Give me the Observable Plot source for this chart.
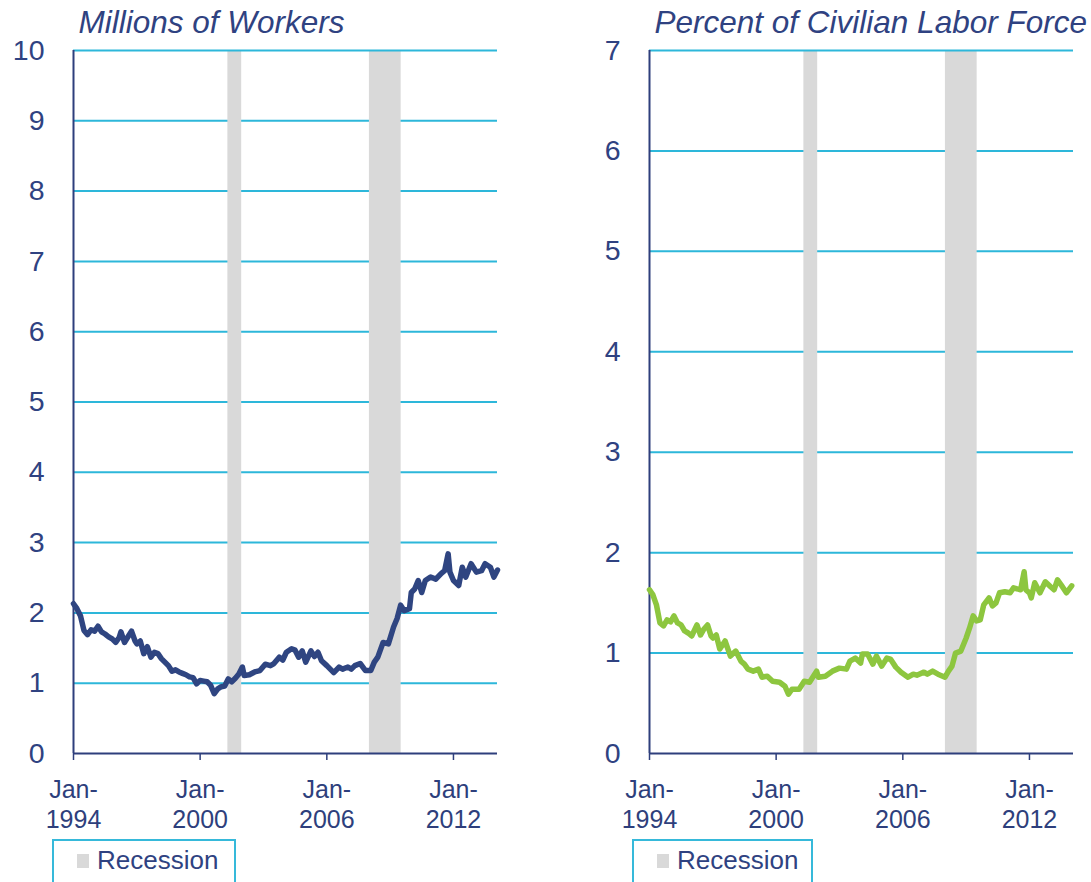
<!DOCTYPE html>
<html><head><meta charset="utf-8">
<script src="https://cdn.jsdelivr.net/npm/d3@7"></script>
<script src="https://cdn.jsdelivr.net/npm/@observablehq/plot@0.6"></script>
<style>
body{margin:0;background:#fff;width:1091px;height:882px;overflow:hidden;font-family:"Liberation Sans",Arial,sans-serif;}
#wrap{position:relative;width:1091px;height:882px;overflow:hidden;}
.panel{position:absolute;top:0;}
.legend{position:absolute;top:839px;height:60px;border:2px solid #36B9DA;box-sizing:border-box;color:#2F4281;font-size:26px;line-height:26px;}
.legend .sw{position:absolute;left:23px;top:13px;width:12px;height:14px;background:#D9D9D9;}
.legend .lb{position:absolute;left:43px;top:6px;white-space:nowrap;}
</style></head>
<body><div id="wrap"></div>
<script>
// ---- data ----
const leftTitle = "Millions of Workers";
const rightTitle = "Percent of Civilian Labor Force";
const legendLabel = "Recession";

const leftDates = ["1994-01","1994-03","1994-05","1994-07","1994-09","1994-11","1995-01","1995-03","1995-05","1995-07","1995-09","1995-11",
"1996-01","1996-03","1996-04","1996-06","1996-08","1996-10","1996-12","1997-01","1997-03","1997-05","1997-07","1997-09","1997-11",
"1998-01","1998-03","1998-05","1998-07","1998-09","1998-11","1999-01","1999-03","1999-05","1999-07","1999-09","1999-11",
"2000-01","2000-03","2000-05","2000-07","2000-09","2000-11","2001-01","2001-03","2001-05","2001-07","2001-09","2001-11",
"2002-01","2002-02","2002-05","2002-08","2002-11","2003-02","2003-05","2003-07","2003-10","2003-12",
"2004-02","2004-05","2004-07","2004-09","2004-11","2005-01","2005-04","2005-06","2005-08","2005-10",
"2006-01","2006-05","2006-08","2006-10","2007-01","2007-03","2007-05","2007-08","2007-11",
"2008-02","2008-04","2008-06","2008-09","2008-12","2009-03","2009-05","2009-07","2009-09","2009-12",
"2010-01","2010-03","2010-05","2010-07","2010-09","2010-12","2011-03","2011-06","2011-08","2011-10","2011-11",
"2012-01","2012-04","2012-06","2012-08","2012-11","2013-02","2013-05","2013-07","2013-10","2013-12","2014-02"];
const leftValues = [2.13,2.06,1.96,1.75,1.69,1.76,1.74,1.81,1.73,1.70,1.66,1.63,
1.58,1.65,1.73,1.58,1.66,1.74,1.60,1.56,1.60,1.42,1.52,1.37,1.44,
1.42,1.35,1.30,1.25,1.17,1.19,1.16,1.14,1.12,1.09,1.08,0.99,
1.04,1.03,1.02,0.97,0.85,0.92,0.95,0.96,1.06,1.02,1.07,1.13,
1.23,1.11,1.12,1.16,1.18,1.27,1.25,1.28,1.37,1.33,
1.44,1.49,1.47,1.37,1.46,1.30,1.46,1.38,1.44,1.32,
1.25,1.15,1.23,1.20,1.23,1.20,1.25,1.28,1.18,
1.18,1.30,1.37,1.58,1.56,1.80,1.92,2.11,2.03,2.06,
2.29,2.34,2.46,2.29,2.46,2.51,2.48,2.56,2.60,2.84,2.58,
2.46,2.39,2.65,2.51,2.70,2.58,2.60,2.70,2.65,2.51,2.61];

const rightDates = ["1994-01","1994-03","1994-05","1994-07","1994-09","1994-11","1995-01","1995-03","1995-05","1995-07","1995-09","1995-11",
"1996-01","1996-04","1996-06","1996-08","1996-10","1996-12","1997-01","1997-03","1997-05","1997-08","1997-11",
"1998-02","1998-05","1998-07","1998-09","1998-12","1999-03","1999-05","1999-08","1999-11",
"2000-03","2000-06","2000-08","2000-10","2001-02","2001-05","2001-08","2001-12",
"2002-01","2002-05","2002-09","2003-01","2003-05","2003-07","2003-10","2004-01","2004-02","2004-05","2004-08","2004-10",
"2005-01","2005-04","2005-06","2005-09","2005-12","2006-04","2006-07","2006-09","2007-01","2007-03","2007-06","2007-09",
"2008-01","2008-03","2008-05","2008-07","2008-10","2009-01","2009-03","2009-05","2009-07","2009-09","2009-11",
"2010-02","2010-04","2010-06","2010-08","2010-11","2011-02","2011-04","2011-08","2011-10","2011-11",
"2012-01","2012-02","2012-04","2012-07","2012-10","2013-01","2013-03","2013-05","2013-07","2013-10","2014-01"];
const rightValues = [1.63,1.58,1.48,1.30,1.27,1.33,1.31,1.37,1.30,1.28,1.22,1.20,
1.17,1.28,1.18,1.24,1.28,1.17,1.15,1.18,1.04,1.12,0.97,
1.02,0.92,0.89,0.84,0.82,0.84,0.76,0.77,0.72,
0.71,0.67,0.59,0.64,0.64,0.72,0.71,0.82,
0.76,0.77,0.82,0.85,0.84,0.92,0.95,0.90,0.99,0.99,0.89,0.97,
0.87,0.95,0.94,0.86,0.81,0.76,0.79,0.78,0.81,0.79,0.82,0.79,
0.76,0.82,0.87,1.00,1.02,1.15,1.25,1.37,1.32,1.33,1.48,
1.55,1.47,1.50,1.60,1.61,1.60,1.65,1.63,1.81,1.63,
1.60,1.55,1.70,1.60,1.71,1.66,1.63,1.73,1.68,1.60,1.67];

const recessionStarts = ["2001-04-25","2008-01-08"];
const recessionEnds = ["2001-12-20","2009-07-10"];
const leftYTicks = [0,1,2,3,4,5,6,7,8,9,10];
const rightYTicks = [0,1,2,3,4,5,6,7];
const xTickDates = ["1994-01","2000-01","2006-01","2012-01"];
const domainStart = "1994-01";
const domainEnd = "2014-02";

// ---- styles ----
const navyText = "#2F4281";
const axisNavy = "#2E3F7C";
const gridColor = "#2DB7DA";
const recColor = "#D9D9D9";
const font = "'Liberation Sans', Arial, sans-serif";

const P = d3.isoParse;
const recessions = recessionStarts.map((s, i) => ({x1: P(s), x2: P(recessionEnds[i])}));

function panel({left, width, mL, mR, dates, values, color, yMax, yTicks, title}) {
  const data = dates.map((d, i) => ({date: P(d), value: values[i]}));
  const plot = Plot.plot({
    width, height: 840,
    marginLeft: mL, marginRight: mR, marginTop: 50, marginBottom: 87,
    style: {fontFamily: font, background: "transparent", overflow: "visible", maxWidth: "none"},
    x: {type: "utc", domain: [P(domainStart), P(domainEnd)]},
    y: {domain: [0, yMax]},
    marks: [
      Plot.ruleY(yTicks.filter(t => t > 0 && t < yMax), {stroke: gridColor, strokeWidth: 2}),
      Plot.rect(recessions, {x1: "x1", x2: "x2", y1: 0, y2: yMax, fill: recColor}),
      Plot.ruleY([yMax], {stroke: gridColor, strokeWidth: 2}),
      Plot.ruleY([0], {stroke: axisNavy, strokeWidth: 2}),
      Plot.ruleX([P(domainStart)], {stroke: axisNavy, strokeWidth: 2}),
      Plot.line(data, {x: "date", y: "value", stroke: color, strokeWidth: 5.5, strokeLinejoin: "round", strokeLinecap: "round"}),
      Plot.axisY(yTicks, {tickSize: 0, tickPadding: 29, fontSize: 28.5, color: navyText, label: null, tickFormat: d => String(d)}),
      Plot.axisX(xTickDates.map(P), {tickSize: 7, tickPadding: 16, fontSize: 25, lineHeight: 1.2, color: axisNavy, strokeWidth: 1.5,
        tickFormat: d => "Jan-\n" + d.getUTCFullYear(), label: null}),
      Plot.text([title], {frameAnchor: "top-left", dx: 5, dy: -18, textAnchor: "start", lineAnchor: "bottom",
        fontSize: 31.5, fontStyle: "italic", fill: navyText})
    ]
  });
  plot.classList.add("panel");
  plot.style.left = left + "px";
  plot.style.position = "absolute";
  plot.style.top = "0px";
  document.getElementById("wrap").appendChild(plot);
}

panel({left: 0, width: 545, mL: 73, mR: 48, dates: leftDates, values: leftValues, color: "#2F4581", yMax: 10, yTicks: leftYTicks, title: leftTitle});
panel({left: 577, width: 514, mL: 72, mR: 18, dates: rightDates, values: rightValues, color: "#8DC63F", yMax: 7, yTicks: rightYTicks, title: rightTitle});

function legend(left, width) {
  const box = document.createElement("div");
  box.className = "legend";
  box.style.left = left + "px";
  box.style.width = width + "px";
  const sw = document.createElement("div"); sw.className = "sw";
  const lb = document.createElement("div"); lb.className = "lb"; lb.textContent = legendLabel;
  box.appendChild(sw); box.appendChild(lb);
  document.getElementById("wrap").appendChild(box);
}
legend(52, 184);
legend(632, 181);
</script>
</body></html>
